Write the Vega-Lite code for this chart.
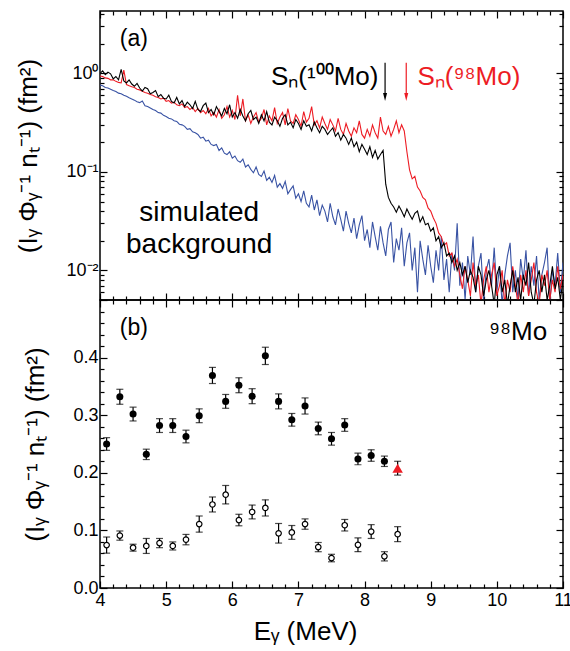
{
"$schema": "https://vega.github.io/schema/vega-lite/v6.json",
"padding": {"left": 15, "top": 4, "right": 7, "bottom": 2},
"spacing": 0,
"bounds": "flush",
"config": {
  "view": {"stroke": "#000", "strokeWidth": 1.5},
  "axis": {"domain": false, "grid": false, "labelFont": "Liberation Sans", "labelFontSize": 18, "labelColor": "#000", "titleFont": "Liberation Sans", "titleFontSize": 26, "titleFontWeight": "normal", "titleColor": "#000", "tickColor": "#000", "tickWidth": 1.2, "labelFlush": false, "labelOverlap": false},
  "text": {"font": "Liberation Sans"}
},
"datasets": {
"spec": [
{"e":4.00,"k":1.00,"r":0.94,"b":0.76},{"e":4.04,"k":1.06,"r":0.93,"b":0.75},{"e":4.08,"k":0.97,"r":0.90,"b":0.72},{"e":4.12,"k":1.03,"r":0.89,"b":0.71},
{"e":4.16,"k":0.99,"r":0.86,"b":0.69},{"e":4.20,"k":0.88,"r":0.86,"b":0.67},{"e":4.24,"k":0.93,"r":0.83,"b":0.655},{"e":4.28,"k":0.86,"r":0.81,"b":0.63},
{"e":4.32,"k":1.10,"r":0.80,"b":0.62},{"e":4.36,"k":0.84,"r":1.08,"b":0.60},{"e":4.40,"k":0.80,"r":0.77,"b":0.585},{"e":4.44,"k":0.86,"r":0.75,"b":0.565},
{"e":4.48,"k":0.78,"r":0.73,"b":0.55},{"e":4.52,"k":0.74,"r":0.72,"b":0.535},{"e":4.56,"k":0.79,"r":0.69,"b":0.515},{"e":4.60,"k":0.71,"r":0.68,"b":0.505},
{"e":4.64,"k":0.66,"r":0.66,"b":0.525},{"e":4.68,"k":0.72,"r":0.64,"b":0.47},{"e":4.72,"k":0.70,"r":0.63,"b":0.46},{"e":4.76,"k":0.62,"r":0.61,"b":0.445},
{"e":4.80,"k":0.64,"r":0.60,"b":0.43},{"e":4.84,"k":0.67,"r":0.58,"b":0.42},{"e":4.88,"k":0.58,"r":0.57,"b":0.40},{"e":4.92,"k":0.61,"r":0.55,"b":0.395},
{"e":4.96,"k":0.56,"r":0.56,"b":0.375},{"e":5.00,"k":0.55,"r":0.52,"b":0.365},{"e":5.04,"k":0.60,"r":0.53,"b":0.35},{"e":5.08,"k":0.52,"r":0.50,"b":0.345},
{"e":5.12,"k":0.50,"r":0.51,"b":0.33},{"e":5.16,"k":0.57,"r":0.48,"b":0.325},{"e":5.20,"k":0.49,"r":0.47,"b":0.305},{"e":5.24,"k":0.53,"r":0.49,"b":0.30},
{"e":5.28,"k":0.46,"r":0.45,"b":0.29},{"e":5.32,"k":0.51,"r":0.46,"b":0.27},{"e":5.36,"k":0.48,"r":0.43,"b":0.275},{"e":5.40,"k":0.44,"r":0.45,"b":0.255},
{"e":5.44,"k":0.52,"r":0.41,"b":0.25},{"e":5.48,"k":0.43,"r":0.44,"b":0.24},{"e":5.52,"k":0.41,"r":0.40,"b":0.22},{"e":5.56,"k":0.47,"r":0.42,"b":0.225},
{"e":5.60,"k":0.50,"r":0.39,"b":0.205},{"e":5.64,"k":0.40,"r":0.44,"b":0.21},{"e":5.68,"k":0.43,"r":0.37,"b":0.19},{"e":5.72,"k":0.38,"r":0.40,"b":0.185},
{"e":5.76,"k":0.46,"r":0.36,"b":0.19},{"e":5.80,"k":0.41,"r":0.43,"b":0.165},{"e":5.84,"k":0.37,"r":0.35,"b":0.175},{"e":5.88,"k":0.44,"r":0.38,"b":0.155},
{"e":5.92,"k":0.39,"r":0.46,"b":0.15},{"e":5.96,"k":0.48,"r":0.36,"b":0.16},{"e":6.00,"k":0.36,"r":0.42,"b":0.138},{"e":6.04,"k":0.40,"r":0.34,"b":0.145},
{"e":6.08,"k":0.35,"r":0.60,"b":0.13},{"e":6.12,"k":0.43,"r":0.37,"b":0.125},{"e":6.16,"k":0.37,"r":0.55,"b":0.135},{"e":6.20,"k":0.33,"r":0.33,"b":0.112},
{"e":6.24,"k":0.39,"r":0.38,"b":0.118},{"e":6.28,"k":0.42,"r":0.31,"b":0.106},{"e":6.32,"k":0.34,"r":0.36,"b":0.098},{"e":6.36,"k":0.36,"r":0.40,"b":0.112},
{"e":6.40,"k":0.31,"r":0.32,"b":0.094},{"e":6.44,"k":0.38,"r":0.35,"b":0.090},{"e":6.48,"k":0.33,"r":0.43,"b":0.102},{"e":6.52,"k":0.41,"r":0.30,"b":0.082},
{"e":6.56,"k":0.32,"r":0.37,"b":0.088},{"e":6.60,"k":0.30,"r":0.33,"b":0.078},{"e":6.64,"k":0.36,"r":0.45,"b":0.092},{"e":6.68,"k":0.33,"r":0.31,"b":0.070},
{"e":6.72,"k":0.29,"r":0.36,"b":0.076},{"e":6.76,"k":0.35,"r":0.40,"b":0.068},{"e":6.80,"k":0.38,"r":0.30,"b":0.080},{"e":6.84,"k":0.30,"r":0.44,"b":0.060},
{"e":6.88,"k":0.32,"r":0.33,"b":0.066},{"e":6.92,"k":0.28,"r":0.31,"b":0.072},{"e":6.96,"k":0.34,"r":0.38,"b":0.054},{"e":7.00,"k":0.31,"r":0.34,"b":0.060},
{"e":7.04,"k":0.27,"r":0.29,"b":0.050},{"e":7.08,"k":0.33,"r":0.41,"b":0.064},{"e":7.12,"k":0.29,"r":0.32,"b":0.048},{"e":7.16,"k":0.30,"r":0.35,"b":0.044},
{"e":7.20,"k":0.26,"r":0.46,"b":0.058},{"e":7.24,"k":0.32,"r":0.30,"b":0.041},{"e":7.28,"k":0.28,"r":0.33,"b":0.052},{"e":7.32,"k":0.25,"r":0.28,"b":0.036},
{"e":7.36,"k":0.29,"r":0.36,"b":0.046},{"e":7.40,"k":0.27,"r":0.31,"b":0.040},{"e":7.44,"k":0.24,"r":0.27,"b":0.031},{"e":7.48,"k":0.26,"r":0.34,"b":0.048},
{"e":7.52,"k":0.28,"r":0.30,"b":0.035},{"e":7.56,"k":0.23,"r":0.26,"b":0.029},{"e":7.60,"k":0.25,"r":0.35,"b":0.042},{"e":7.64,"k":0.21,"r":0.27,"b":0.033},
{"e":7.68,"k":0.24,"r":0.24,"b":0.025},{"e":7.72,"k":0.22,"r":0.31,"b":0.040},{"e":7.76,"k":0.19,"r":0.26,"b":0.030},{"e":7.80,"k":0.22,"r":0.23,"b":0.024},
{"e":7.84,"k":0.18,"r":0.28,"b":0.034},{"e":7.88,"k":0.20,"r":0.25,"b":0.021},{"e":7.92,"k":0.16,"r":0.33,"b":0.029},{"e":7.96,"k":0.19,"r":0.24,"b":0.036},
{"e":8.00,"k":0.17,"r":0.22,"b":0.020},{"e":8.04,"k":0.15,"r":0.27,"b":0.026},{"e":8.08,"k":0.18,"r":0.23,"b":0.017},{"e":8.12,"k":0.14,"r":0.30,"b":0.031},
{"e":8.16,"k":0.165,"r":0.25,"b":0.022},{"e":8.20,"k":0.135,"r":0.22,"b":0.016},{"e":8.24,"k":0.15,"r":0.36,"b":0.028},{"e":8.28,"k":0.165,"r":0.26,"b":0.019},
{"e":8.32,"k":0.075,"r":0.24,"b":0.014},{"e":8.36,"k":0.055,"r":0.29,"b":0.026},{"e":8.40,"k":0.048,"r":0.23,"b":0.031},{"e":8.44,"k":0.044,"r":0.27,"b":0.012},
{"e":8.48,"k":0.039,"r":0.33,"b":0.021},{"e":8.52,"k":0.045,"r":0.25,"b":0.016},{"e":8.56,"k":0.040,"r":0.30,"b":0.027},{"e":8.60,"k":0.035,"r":0.26,"b":0.011},
{"e":8.64,"k":0.042,"r":0.16,"b":0.019},{"e":8.68,"k":0.037,"r":0.105,"b":0.024},{"e":8.72,"k":0.033,"r":0.085,"b":0.010},{"e":8.76,"k":0.038,"r":0.090,"b":0.017},
{"e":8.80,"k":0.040,"r":0.070,"b":0.006},{"e":8.84,"k":0.031,"r":0.064,"b":0.020},{"e":8.88,"k":0.035,"r":0.055,"b":0.013},{"e":8.92,"k":0.029,"r":0.052,"b":0.009},
{"e":8.96,"k":0.030,"r":0.043,"b":0.018},{"e":9.00,"k":0.025,"r":0.040,"b":0.011},{"e":9.04,"k":0.027,"r":0.034,"b":0.0075},{"e":9.08,"k":0.020,"r":0.030,"b":0.016},
{"e":9.12,"k":0.022,"r":0.024,"b":0.010},{"e":9.16,"k":0.017,"r":0.022,"b":0.022},{"e":9.20,"k":0.019,"r":0.018,"b":0.008},{"e":9.24,"k":0.014,"r":0.019,"b":0.013},
{"e":9.28,"k":0.015,"r":0.014,"b":0.006},{"e":9.32,"k":0.012,"r":0.015,"b":0.015},{"e":9.36,"k":0.014,"r":0.011,"b":0.010},{"e":9.40,"k":0.010,"r":0.013,"b":0.030},
{"e":9.44,"k":0.012,"r":0.009,"b":0.007},{"e":9.48,"k":0.009,"r":0.0065,"b":0.012},{"e":9.52,"k":0.011,"r":0.011,"b":0.005},{"e":9.56,"k":0.0075,"r":0.008,"b":0.014},
{"e":9.60,"k":0.010,"r":0.0055,"b":0.009},{"e":9.64,"k":0.0085,"r":0.012,"b":0.022},{"e":9.68,"k":0.006,"r":0.007,"b":0.006},{"e":9.72,"k":0.011,"r":0.009,"b":0.011},
{"e":9.76,"k":0.009,"r":0.0045,"b":0.015},{"e":9.80,"k":0.0055,"r":0.008,"b":0.005},{"e":9.84,"k":0.008,"r":0.011,"b":0.010},{"e":9.88,"k":0.010,"r":0.006,"b":0.013},
{"e":9.92,"k":0.007,"r":0.009,"b":0.007},{"e":9.96,"k":0.0045,"r":0.012,"b":0.017},{"e":10.00,"k":0.009,"r":0.0055,"b":0.006},{"e":10.04,"k":0.011,"r":0.007,"b":0.011},
{"e":10.08,"k":0.006,"r":0.010,"b":0.0045},{"e":10.12,"k":0.008,"r":0.0045,"b":0.009},{"e":10.16,"k":0.0045,"r":0.008,"b":0.014},{"e":10.20,"k":0.007,"r":0.006,"b":0.019},
{"e":10.24,"k":0.010,"r":0.011,"b":0.006},{"e":10.28,"k":0.006,"r":0.007,"b":0.010},{"e":10.32,"k":0.0085,"r":0.0045,"b":0.005},{"e":10.36,"k":0.005,"r":0.009,"b":0.013},
{"e":10.40,"k":0.009,"r":0.006,"b":0.008},{"e":10.44,"k":0.007,"r":0.010,"b":0.016},{"e":10.48,"k":0.012,"r":0.0055,"b":0.0055},{"e":10.52,"k":0.006,"r":0.008,"b":0.011},
{"e":10.56,"k":0.0045,"r":0.012,"b":0.007},{"e":10.60,"k":0.008,"r":0.006,"b":0.014},{"e":10.64,"k":0.010,"r":0.0045,"b":0.005},{"e":10.68,"k":0.006,"r":0.009,"b":0.009},
{"e":10.72,"k":0.009,"r":0.007,"b":0.012},{"e":10.76,"k":0.005,"r":0.010,"b":0.017},{"e":10.80,"k":0.007,"r":0.005,"b":0.0045},{"e":10.84,"k":0.011,"r":0.008,"b":0.010},
{"e":10.88,"k":0.0065,"r":0.006,"b":0.007},{"e":10.92,"k":0.0085,"r":0.011,"b":0.015},{"e":10.96,"k":0.005,"r":0.0065,"b":0.006},{"e":11.00,"k":0.008,"r":0.009,"b":0.012}
],
"pts": [
{"e":4.1,"v":0.250,"err":0.011,"kind":"filled"},{"e":4.3,"v":0.332,"err":0.013,"kind":"filled"},{"e":4.5,"v":0.302,"err":0.012,"kind":"filled"},{"e":4.7,"v":0.232,"err":0.009,"kind":"filled"},
{"e":4.9,"v":0.282,"err":0.012,"kind":"filled"},{"e":5.1,"v":0.282,"err":0.012,"kind":"filled"},{"e":5.3,"v":0.263,"err":0.011,"kind":"filled"},{"e":5.5,"v":0.299,"err":0.012,"kind":"filled"},
{"e":5.7,"v":0.369,"err":0.014,"kind":"filled"},{"e":5.9,"v":0.324,"err":0.012,"kind":"filled"},{"e":6.1,"v":0.352,"err":0.013,"kind":"filled"},{"e":6.3,"v":0.333,"err":0.013,"kind":"filled"},
{"e":6.5,"v":0.403,"err":0.015,"kind":"filled"},{"e":6.7,"v":0.324,"err":0.013,"kind":"filled"},{"e":6.9,"v":0.292,"err":0.011,"kind":"filled"},{"e":7.1,"v":0.316,"err":0.014,"kind":"filled"},
{"e":7.3,"v":0.277,"err":0.011,"kind":"filled"},{"e":7.5,"v":0.259,"err":0.011,"kind":"filled"},{"e":7.7,"v":0.283,"err":0.011,"kind":"filled"},{"e":7.9,"v":0.224,"err":0.010,"kind":"filled"},
{"e":8.1,"v":0.230,"err":0.010,"kind":"filled"},{"e":8.3,"v":0.220,"err":0.009,"kind":"filled"},
{"e":8.5,"v":0.208,"err":0.012,"kind":"tri"},
{"e":4.1,"v":0.0745,"err":0.014,"kind":"open"},{"e":4.3,"v":0.091,"err":0.008,"kind":"open"},{"e":4.5,"v":0.070,"err":0.006,"kind":"open"},{"e":4.7,"v":0.073,"err":0.013,"kind":"open"},
{"e":4.9,"v":0.078,"err":0.008,"kind":"open"},{"e":5.1,"v":0.073,"err":0.007,"kind":"open"},{"e":5.3,"v":0.084,"err":0.009,"kind":"open"},{"e":5.5,"v":0.111,"err":0.014,"kind":"open"},
{"e":5.7,"v":0.145,"err":0.013,"kind":"open"},{"e":5.9,"v":0.162,"err":0.016,"kind":"open"},{"e":6.1,"v":0.118,"err":0.010,"kind":"open"},{"e":6.3,"v":0.132,"err":0.012,"kind":"open"},
{"e":6.5,"v":0.139,"err":0.014,"kind":"open"},{"e":6.7,"v":0.095,"err":0.017,"kind":"open"},{"e":6.9,"v":0.0965,"err":0.012,"kind":"open"},{"e":7.1,"v":0.111,"err":0.009,"kind":"open"},
{"e":7.3,"v":0.071,"err":0.008,"kind":"open"},{"e":7.5,"v":0.052,"err":0.0065,"kind":"open"},{"e":7.7,"v":0.109,"err":0.010,"kind":"open"},{"e":7.9,"v":0.075,"err":0.012,"kind":"open"},
{"e":8.1,"v":0.098,"err":0.012,"kind":"open"},{"e":8.3,"v":0.055,"err":0.008,"kind":"open"},{"e":8.5,"v":0.0935,"err":0.013,"kind":"open"}
]
},
"vconcat": [
{
 "width": 463, "height": 289,
 "data": {"name": "spec"},
 "resolve": {"axis": {"x": "independent", "y": "independent"}},
 "layer": [
  {"mark": {"type": "line", "color": "#3953a4", "strokeWidth": 1.1, "clip": true},
   "encoding": {
    "x": {"field": "e", "type": "quantitative", "scale": {"domain": [4, 11], "nice": false, "zero": false},
          "axis": {"orient": "bottom", "title": null, "labels": false, "values": [4,4.2,4.4,4.6,4.8,5,5.2,5.4,5.6,5.8,6,6.2,6.4,6.6,6.8,7,7.2,7.4,7.6,7.8,8,8.2,8.4,8.6,8.8,9,9.2,9.4,9.6,9.8,10,10.2,10.4,10.6,10.8,11],
                   "tickSize": {"condition": {"test": "datum.value % 1 == 0", "value": -7}, "value": -4}}},
    "y": {"field": "b", "type": "quantitative", "scale": {"type": "log", "domain": [0.005, 4.3], "nice": false},
          "axis": {"orient": "left", "title": "(Iᵧ Φᵧ⁻¹ nₜ⁻¹) (fm²)", "titlePadding": 24, "labelPadding": 9,
                   "values": [0.006,0.007,0.008,0.009,0.01,0.02,0.03,0.04,0.05,0.06,0.07,0.08,0.09,0.1,0.2,0.3,0.4,0.5,0.6,0.7,0.8,0.9,1,2,3,4],
                   "tickSize": {"condition": {"test": "datum.value == 0.01 || datum.value == 0.1 || datum.value == 1", "value": -7}, "value": -4},
                   "labelExpr": "datum.value == 1 ? '10⁰' : datum.value == 0.1 ? '10⁻¹' : datum.value == 0.01 ? '10⁻²' : ''"}}
   }},
  {"mark": {"type": "line", "color": "#ed1c24", "strokeWidth": 1.1, "clip": true},
   "encoding": {
    "x": {"field": "e", "type": "quantitative",
          "axis": {"orient": "top", "title": null, "labels": false, "values": [4,4.2,4.4,4.6,4.8,5,5.2,5.4,5.6,5.8,6,6.2,6.4,6.6,6.8,7,7.2,7.4,7.6,7.8,8,8.2,8.4,8.6,8.8,9,9.2,9.4,9.6,9.8,10,10.2,10.4,10.6,10.8,11],
                   "tickSize": {"condition": {"test": "datum.value % 1 == 0", "value": -7}, "value": -4}}},
    "y": {"field": "r", "type": "quantitative",
          "axis": {"orient": "right", "title": null, "labels": false,
                   "values": [0.006,0.007,0.008,0.009,0.01,0.02,0.03,0.04,0.05,0.06,0.07,0.08,0.09,0.1,0.2,0.3,0.4,0.5,0.6,0.7,0.8,0.9,1,2,3,4],
                   "tickSize": {"condition": {"test": "datum.value == 0.01 || datum.value == 0.1 || datum.value == 1", "value": -7}, "value": -4}}}
   }},
  {"mark": {"type": "line", "color": "#000000", "strokeWidth": 1.1, "clip": true},
   "encoding": {"x": {"field": "e", "type": "quantitative", "axis": null}, "y": {"field": "k", "type": "quantitative", "axis": null}}},
  {"data": {"values": [{"e": 8.31, "top": 1.28, "bot": 0.58, "s": "100Mo"}, {"e": 8.63, "top": 1.28, "bot": 0.58, "s": "98Mo"}]},
   "mark": {"type": "rule", "strokeWidth": 1.2},
   "encoding": {"x": {"field": "e", "type": "quantitative", "axis": null}, "y": {"field": "top", "type": "quantitative", "axis": null}, "y2": {"field": "bot"},
                "color": {"field": "s", "type": "nominal", "scale": {"domain": ["100Mo", "98Mo"], "range": ["#000000", "#ed1c24"]}, "legend": null}}},
  {"data": {"values": [{"e": 8.31, "v": 0.577, "s": "100Mo"}, {"e": 8.63, "v": 0.577, "s": "98Mo"}]},
   "mark": {"type": "point", "shape": "M-0.5,-1L0,1L0.5,-1Z", "filled": true, "size": 64, "opacity": 1},
   "encoding": {"x": {"field": "e", "type": "quantitative", "axis": null}, "y": {"field": "v", "type": "quantitative", "axis": null},
                "color": {"field": "s", "type": "nominal", "legend": null}}},
  {"data": {"values": [{"e": 4.3, "v": 2.24, "t": "(a)"}]},
   "mark": {"type": "text", "align": "left", "baseline": "middle", "fontSize": 23, "color": "#000"},
   "encoding": {"x": {"field": "e", "type": "quantitative", "axis": null}, "y": {"field": "v", "type": "quantitative", "axis": null}, "text": {"field": "t"}}},
  {"data": {"values": [{"e": 8.21, "v": 0.764, "t": "Sₙ(¹⁰⁰Mo)"}]},
   "mark": {"type": "text", "align": "right", "baseline": "alphabetic", "fontSize": 26, "color": "#000"},
   "encoding": {"x": {"field": "e", "type": "quantitative", "axis": null}, "y": {"field": "v", "type": "quantitative", "axis": null}, "text": {"field": "t"}}},
  {"data": {"values": [{"e": 8.80, "v": 0.764, "t": "Sₙ(⁹⁸Mo)"}]},
   "mark": {"type": "text", "align": "left", "baseline": "alphabetic", "fontSize": 26, "color": "#ed1c24"},
   "encoding": {"x": {"field": "e", "type": "quantitative", "axis": null}, "y": {"field": "v", "type": "quantitative", "axis": null}, "text": {"field": "t"}}},
  {"data": {"values": [{"e": 5.5, "v": 0.0318, "t": "simulated"}, {"e": 5.5, "v": 0.01506, "t": "background"}]},
   "mark": {"type": "text", "align": "center", "baseline": "alphabetic", "fontSize": 28, "color": "#000"},
   "encoding": {"x": {"field": "e", "type": "quantitative", "axis": null}, "y": {"field": "v", "type": "quantitative", "axis": null}, "text": {"field": "t"}}}
 ]
},
{
 "width": 463, "height": 288,
 "data": {"name": "pts"},
 "resolve": {"axis": {"x": "independent", "y": "independent"}},
 "layer": [
  {"mark": {"type": "point", "opacity": 0},
   "encoding": {
    "x": {"field": "e", "type": "quantitative", "scale": {"domain": [4, 11], "nice": false, "zero": false},
          "axis": {"orient": "bottom", "title": "Eᵧ (MeV)", "labelPadding": 10, "titlePadding": 6, "titleX": 205,
                   "values": [4,4.2,4.4,4.6,4.8,5,5.2,5.4,5.6,5.8,6,6.2,6.4,6.6,6.8,7,7.2,7.4,7.6,7.8,8,8.2,8.4,8.6,8.8,9,9.2,9.4,9.6,9.8,10,10.2,10.4,10.6,10.8,11],
                   "tickSize": {"condition": {"test": "datum.value % 1 == 0", "value": -7}, "value": -4},
                   "labelExpr": "datum.value % 1 == 0 ? format(datum.value, 'd') : ''"}},
    "y": {"field": "v", "type": "quantitative", "scale": {"domain": [0, 0.5], "nice": false},
          "axis": {"orient": "left", "title": "(Iᵧ Φᵧ⁻¹ nₜ⁻¹) (fm²)", "titlePadding": 24, "labelPadding": 9,
                   "values": [0,0.02,0.04,0.06,0.08,0.1,0.12,0.14,0.16,0.18,0.2,0.22,0.24,0.26,0.28,0.3,0.32,0.34,0.36,0.38,0.4,0.42,0.44,0.46,0.48,0.5],
                   "tickSize": {"condition": {"test": "abs(datum.value*10 - round(datum.value*10)) < 0.001", "value": -7}, "value": -4},
                   "labelExpr": "(abs(datum.value*10 - round(datum.value*10)) < 0.001 && datum.value < 0.45) ? format(datum.value, '.1f') : ''"}}
   }},
  {"mark": {"type": "point", "opacity": 0},
   "encoding": {
    "x": {"field": "e", "type": "quantitative",
          "axis": {"orient": "top", "title": null, "labels": false,
                   "values": [4,4.2,4.4,4.6,4.8,5,5.2,5.4,5.6,5.8,6,6.2,6.4,6.6,6.8,7,7.2,7.4,7.6,7.8,8,8.2,8.4,8.6,8.8,9,9.2,9.4,9.6,9.8,10,10.2,10.4,10.6,10.8,11],
                   "tickSize": {"condition": {"test": "datum.value % 1 == 0", "value": -7}, "value": -4}}},
    "y": {"field": "v", "type": "quantitative",
          "axis": {"orient": "right", "title": null, "labels": false,
                   "values": [0,0.02,0.04,0.06,0.08,0.1,0.12,0.14,0.16,0.18,0.2,0.22,0.24,0.26,0.28,0.3,0.32,0.34,0.36,0.38,0.4,0.42,0.44,0.46,0.48,0.5],
                   "tickSize": {"condition": {"test": "abs(datum.value*10 - round(datum.value*10)) < 0.001", "value": -7}, "value": -4}}}
   }},
  {"mark": {"type": "errorbar", "ticks": {"size": 7, "thickness": 1.2, "color": "#000"}, "rule": {"strokeWidth": 1.2, "color": "#000"}},
   "encoding": {"x": {"field": "e", "type": "quantitative", "axis": null}, "y": {"field": "v", "type": "quantitative", "axis": null}, "yError": {"field": "err"}}},
  {"transform": [{"filter": "datum.kind == 'filled'"}],
   "mark": {"type": "point", "shape": "circle", "filled": true, "color": "#000", "size": 50, "opacity": 1},
   "encoding": {"x": {"field": "e", "type": "quantitative", "axis": null}, "y": {"field": "v", "type": "quantitative", "axis": null}}},
  {"transform": [{"filter": "datum.kind == 'open'"}],
   "mark": {"type": "point", "shape": "circle", "fill": "#fff", "stroke": "#000", "strokeWidth": 1.2, "size": 30, "opacity": 1, "fillOpacity": 1},
   "encoding": {"x": {"field": "e", "type": "quantitative", "axis": null}, "y": {"field": "v", "type": "quantitative", "axis": null}}},
  {"transform": [{"filter": "datum.kind == 'tri'"}],
   "mark": {"type": "point", "shape": "triangle-up", "filled": true, "color": "#ed1c24", "size": 110, "opacity": 1},
   "encoding": {"x": {"field": "e", "type": "quantitative", "axis": null}, "y": {"field": "v", "type": "quantitative", "axis": null}}},
  {"data": {"values": [{"e": 4.3, "v": 0.451, "t": "(b)"}]},
   "mark": {"type": "text", "align": "left", "baseline": "middle", "fontSize": 23, "color": "#000"},
   "encoding": {"x": {"field": "e", "type": "quantitative", "axis": null}, "y": {"field": "v", "type": "quantitative", "axis": null}, "text": {"field": "t"}}},
  {"data": {"values": [{"e": 10.76, "v": 0.430, "t": "⁹⁸Mo"}]},
   "mark": {"type": "text", "align": "right", "baseline": "alphabetic", "fontSize": 26, "color": "#000"},
   "encoding": {"x": {"field": "e", "type": "quantitative", "axis": null}, "y": {"field": "v", "type": "quantitative", "axis": null}, "text": {"field": "t"}}}
 ]
}
]
}
